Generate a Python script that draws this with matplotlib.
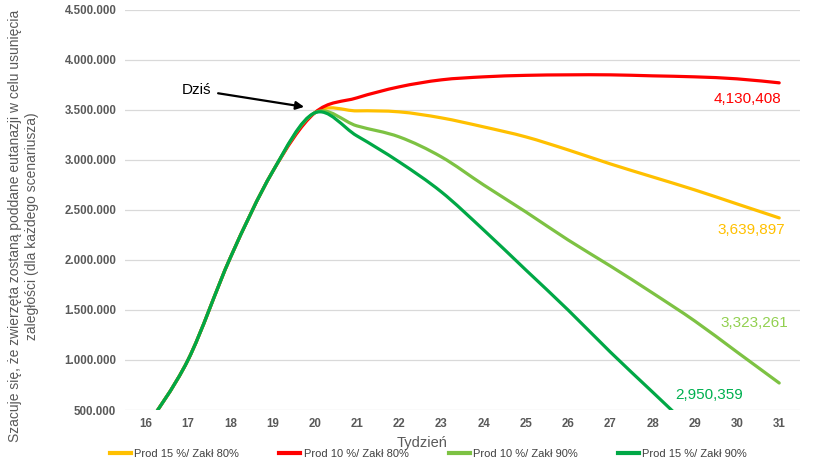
import matplotlib
matplotlib.use('Agg')
import matplotlib.pyplot as plt
from matplotlib.path import Path
from matplotlib.patches import PathPatch
from matplotlib.lines import Line2D

# weeks on the x axis
weeks = list(range(16, 32))

# shared growth up to "today" (weeks 16-20)
rise = [320000, 1000000, 2020000, 2880000, 3470000]

# scenarios, weeks 16..31 (dark green runs below the axis after week 28)
prod15_zakl80 = rise + [3490000, 3480000, 3420000, 3330000, 3230000, 3100000,
                        2960000, 2830000, 2700000, 2560000, 2420000]
prod10_zakl80 = rise + [3620000, 3730000, 3800000, 3830000, 3845000, 3850000,
                        3850000, 3840000, 3830000, 3810000, 3770000]
prod10_zakl90 = rise + [3340000, 3230000, 3030000, 2750000, 2480000, 2200000,
                        1940000, 1670000, 1390000, 1080000, 770000]
prod15_zakl90 = rise + [3240000, 2980000, 2680000, 2300000, 1900000, 1500000,
                        1080000, 680000, 280000]

series_names = ['Prod 15 %/ Zakł 80%', 'Prod 10 %/ Zakł 80%',
                'Prod 10 %/ Zakł 90%', 'Prod 15 %/ Zakł 90%']
end_labels = ['3,639,897', '4,130,408', '3,323,261', '2,950,359']

colors = ['#FFC000', '#FF0000', '#7DC243', '#00A846']
label_colors = ['#FFC000', '#FF0000', '#92D050', '#00B050']


def smooth_path(xs, ys):
    # Excel-like smoothed line: Catmull-Rom segments as cubic Beziers
    pts = list(zip(xs, ys))
    verts = [pts[0]]
    codes = [Path.MOVETO]
    n = len(pts)
    for i in range(n - 1):
        p0 = pts[i - 1] if i > 0 else pts[i]
        p1 = pts[i]
        p2 = pts[i + 1]
        p3 = pts[i + 2] if i + 2 < n else pts[i + 1]
        c1 = (p1[0] + (p2[0] - p0[0]) / 6, p1[1] + (p2[1] - p0[1]) / 6)
        c2 = (p2[0] - (p3[0] - p1[0]) / 6, p2[1] - (p3[1] - p1[1]) / 6)
        verts += [c1, c2, p2]
        codes += [Path.CURVE4] * 3
    return Path(verts, codes)


plt.rcParams['font.family'] = ['Liberation Sans', 'DejaVu Sans']

fig = plt.figure(figsize=(8.2, 4.67), dpi=100)
ax = fig.add_axes([0.152, 0.122, 0.824, 0.857])

data = [prod15_zakl80, prod10_zakl80, prod10_zakl90, prod15_zakl90]
for vals, col in zip(data, colors):
    path = smooth_path(weeks[:len(vals)], vals)
    ax.add_patch(PathPatch(path, fill=False, edgecolor=col, lw=2.3,
                           capstyle='round', joinstyle='round', zorder=3))

ax.set_xlim(15.5, 31.5)
ax.set_ylim(500000, 4500000)
ax.set_xticks(weeks)
ax.set_yticks(range(500000, 4500001, 500000))
ax.set_yticklabels([f'{v:,.0f}'.replace(',', '.') for v in range(500000, 4500001, 500000)])
ax.tick_params(length=0, labelsize=8.3, labelcolor='#595959', pad=6)
for lab in ax.get_xticklabels() + ax.get_yticklabels():
    lab.set_fontweight('bold')
ax.yaxis.grid(True, color='#D9D9D9', lw=0.9)
ax.set_axisbelow(True)
for spine in ax.spines.values():
    spine.set_visible(False)

ax.set_xlabel('Tydzień', fontsize=10.5, color='#595959')
ax.xaxis.set_label_coords(0.44, -0.065)
fig.text(0.029, 0.516,
         'Szacuje się, że zwierzęta zostaną poddane eutanazji w celu usunięcia\n'
         'zaległości (dla każdego scenariusza)',
         rotation=90, ha='center', va='center', fontsize=10.0,
         color='#595959', linespacing=1.3)

# end-of-line values
label_pos = [(31.14, 2300000), (31.05, 3610000), (31.21, 1370000), (30.15, 650000)]
for (lx, ly), txt, col in zip(label_pos, end_labels, label_colors):
    ax.text(lx, ly, txt, ha='right', va='center', fontsize=11, color=col)

ax.annotate('Dziś', xy=(19.75, 3530000), xytext=(17.55, 3700000),
            ha='right', va='center', fontsize=11, color='black',
            arrowprops=dict(arrowstyle='-|>', color='black', lw=1.6,
                            mutation_scale=12, shrinkA=3, shrinkB=0))

handles = [Line2D([], [], color=c, lw=3) for c in colors]
fig.legend(handles, series_names, loc='center left', bbox_to_anchor=(0.122, 0.028),
           ncol=4, frameon=False, fontsize=8, handlelength=1.9, handletextpad=0.3,
           columnspacing=3.6, labelcolor='#404040')

fig.savefig('out.png', dpi=100, facecolor='white')
